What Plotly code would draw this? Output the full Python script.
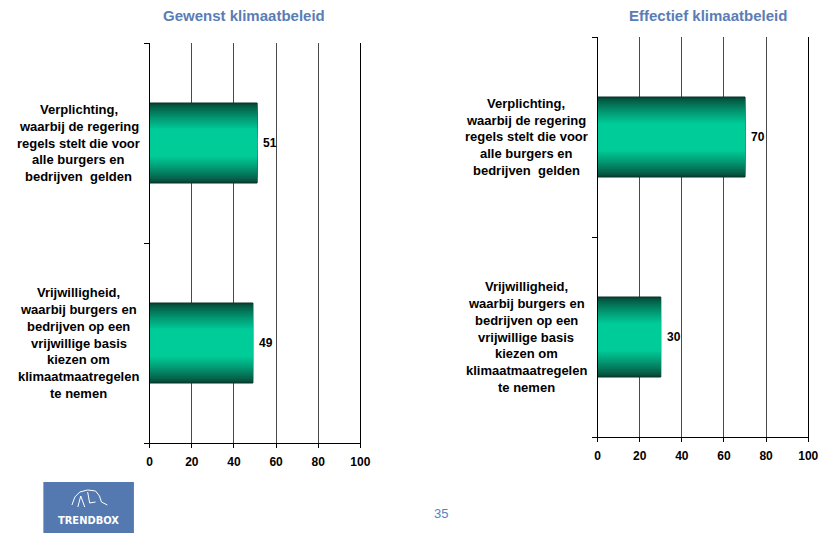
import plotly.graph_objects as go

# Survey answers: preferred vs. effective climate policy (percentages)
categories = [
    "Verplichting, waarbij de regering regels stelt die voor alle burgers en bedrijven  gelden",
    "Vrijwilligheid, waarbij burgers en bedrijven op een vrijwillige basis kiezen om klimaatmaatregelen te nemen",
]
category_lines = [
    ["Verplichting,", "waarbij de regering", "regels stelt die voor", "alle burgers en", "bedrijven  gelden"],
    ["Vrijwilligheid,", "waarbij burgers en", "bedrijven op een", "vrijwillige basis", "kiezen om",
     "klimaatmaatregelen", "te nemen"],
]
gewenst = [51, 49]
effectief = [70, 30]
panel_titles = ["Gewenst klimaatbeleid", "Effectief klimaatbeleid"]
x_ticks = [0, 20, 40, 60, 80, 100]

W, H = 834, 533
FONT = "Liberation Sans, Arial, sans-serif"
TITLE_BLUE = "#5a7db5"

DARK = (6, 72, 56)
BRIGHT = (0, 204, 153)
BAR_WIDTH = 0.4
LAYERS = 24


def mix(a, b, t):
    return "rgb({},{},{})".format(*[round(a[i] + (b[i] - a[i]) * t) for i in range(3)])


def px_x(p):
    return p / W


def px_y(p):
    return 1 - p / H


fig = go.Figure()

panels = [
    dict(values=gewenst, xa="x", ya="y", title=panel_titles[0], title_x=245, label_x=77),
    dict(values=effectief, xa="x2", ya="y2", title=panel_titles[1], title_x=716, label_x=531.5),
]

positions = list(range(len(categories)))

for p in panels:
    # Layered bars of shrinking thickness give the vertical shading of each bar
    for k in range(LAYERS):
        frac = k / LAYERS
        t = min(1.0, (frac / 0.65) ** 0.85)
        outer = k == 0
        fig.add_trace(go.Bar(
            x=p["values"],
            y=positions,
            orientation="h",
            width=BAR_WIDTH * (1 - frac),
            marker=dict(color=mix(DARK, BRIGHT, t),
                        line=dict(color="#053427" if outer else "rgba(0,0,0,0)", width=1 if outer else 0)),
            textposition="none",
            xaxis=p["xa"],
            yaxis=p["ya"],
            showlegend=False,
            hoverinfo="skip",
        ))

    # Value labels just right of each bar
    for i, v in enumerate(p["values"]):
        fig.add_annotation(
            text=str(v), xref=p["xa"], yref=p["ya"], x=v, y=positions[i], xshift=4,
            showarrow=False, xanchor="left", yanchor="middle",
            font=dict(family=FONT, size=12, color="black", weight="bold"),
        )

    fig.add_annotation(
        text=p["title"], xref="paper", yref="paper", x=px_x(p["title_x"]), y=px_y(16),
        showarrow=False, xanchor="center", yanchor="middle",
        font=dict(family=FONT, size=15, color=TITLE_BLUE, weight="bold"),
    )

    # Category labels, centred, one line per annotation
    for i, lines in enumerate(category_lines):
        n = len(lines)
        for j, line in enumerate(lines):
            fig.add_annotation(
                text=line, xref="paper", yref=p["ya"], x=px_x(p["label_x"]), y=positions[i],
                yshift=-(j - (n - 1) / 2) * 16.7,
                showarrow=False, xanchor="center", yanchor="middle",
                font=dict(family=FONT, size=13, color="black", weight="bold"),
            )

xaxis_common = dict(
    range=[0, 100], tickvals=x_ticks, ticktext=[str(v) for v in x_ticks],
    showgrid=True, gridcolor="#4a4a4a", gridwidth=1, zeroline=False,
    showline=True, linecolor="black", linewidth=1,
    ticks="outside", ticklen=4, tickcolor="black", ticklabelstandoff=4,
    tickfont=dict(family=FONT, size=12, color="black", weight="bold"),
    fixedrange=True,
)
yaxis_common = dict(
    range=[len(categories) - 0.5, -0.5], tickvals=[-0.5, 0.5, 1.5],
    showticklabels=False, showgrid=False, zeroline=False,
    showline=True, linecolor="black", linewidth=1, mirror=True,
    ticks="outside", ticklen=5, tickcolor="black",
    fixedrange=True,
)

fig.update_layout(
    width=W, height=H,
    margin=dict(l=0, r=0, t=0, b=0),
    paper_bgcolor="white", plot_bgcolor="white",
    barmode="overlay",
    xaxis=dict(domain=[px_x(149), px_x(363)], anchor="y", **xaxis_common),
    yaxis=dict(domain=[px_y(443), px_y(43)], anchor="x", **yaxis_common),
    xaxis2=dict(domain=[px_x(604), px_x(818)], anchor="y2", **xaxis_common),
    yaxis2=dict(domain=[px_y(437), px_y(37)], anchor="x2", **yaxis_common),
)

# Logo block bottom-left
fig.add_shape(type="rect", xref="paper", yref="paper",
              x0=px_x(41), x1=px_x(133), y0=px_y(533), y1=px_y(482),
              fillcolor="#5479b0", line=dict(width=0), layer="above")
icon_pts = [(70, 505), (73, 497), (78, 492), (86, 490), (94, 491), (98, 496), (100, 502), (106, 505)]
icon_path = "M " + " L ".join(f"{px_x(a):.5f} {px_y(b):.5f}" for a, b in icon_pts)
fig.add_shape(type="path", xref="paper", yref="paper", path=icon_path,
              line=dict(color="white", width=1), layer="above")
for seg in [[(76, 507), (79, 496), (83, 507)], [(86, 492), (88, 503), (94, 502)]]:
    fig.add_shape(type="path", xref="paper", yref="paper",
                  path="M " + " L ".join(f"{px_x(a):.5f} {px_y(b):.5f}" for a, b in seg),
                  line=dict(color="white", width=1), layer="above")
fig.add_annotation(text="TRENDBOX", xref="paper", yref="paper", x=px_x(87), y=px_y(520),
                   showarrow=False, xanchor="center", yanchor="middle",
                   font=dict(family="DejaVu Sans Condensed, " + FONT, size=11, color="white", weight="bold"))

# Page number
fig.add_annotation(text="35", xref="paper", yref="paper", x=px_x(445), y=px_y(513),
                   showarrow=False, xanchor="center", yanchor="middle",
                   font=dict(family=FONT, size=13, color="#5b7fc0"))

fig.write_html("out.html")
